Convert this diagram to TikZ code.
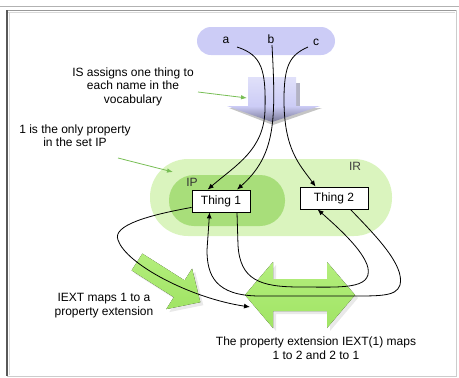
\documentclass[tikz,border=0pt]{standalone}
\usepackage{fontspec}
\setmainfont{Liberation Sans}
\usetikzlibrary{arrows.meta,shadows}
\definecolor{lav}{RGB}{204,204,246}
\definecolor{lavdark}{RGB}{120,120,150}
\definecolor{irgreen}{RGB}{218,244,190}
\definecolor{ipgreen}{RGB}{168,222,122}
\definecolor{arrgreen}{RGB}{160,228,100}
\definecolor{arrgreentop}{RGB}{180,238,125}
\definecolor{notegreen}{RGB}{120,190,85}
\begin{document}
\begin{tikzpicture}[x=1pt,y=-1pt,
  txt/.style={font=\fontsize{12}{13.5}\selectfont, align=center, inner sep=0pt},
  thing/.style={draw=black, line width=0.8pt, fill=white, minimum height=22pt, inner sep=0pt, font=\fontsize{12}{13}\selectfont},
  link/.style={line width=0.8pt, -{Latex[length=6pt,width=5pt]}},
  note/.style={draw=notegreen, line width=0.8pt, -{Latex[length=6pt,width=4.5pt]}},
  bigarrow/.style={top color=arrgreentop, bottom color=arrgreen, draw=none}
]
\useasboundingbox (0,0) rectangle (459,378);
% frame
\draw[line width=0.8pt, black!30] (0,6) -- (459,6);
\draw[line width=1pt, black!40] (7,10) -- (456,10);
\draw[line width=0.6pt, black!15] (8,12) -- (455,12);
\draw[line width=0.6pt, black!20] (456,10) -- (456,376) -- (7,376);
\draw[line width=1.6pt, black!65] (7,10) -- (7,376);
\draw[line width=1pt, black!15] (9.5,12) -- (9.5,375);

% vocabulary region
\fill[lav, rounded corners=14pt] (197,27) rectangle (335,55);
\node[txt] (a) at (226,40) {a};
\node[txt] (b) at (271,39) {b};
\node[txt] (c) at (316,42) {c};
\coordinate (as) at (237,47);
\coordinate (bs) at (272,45);
\coordinate (cs) at (308,47);

% big lavender down arrow
\fill[lavdark!70, opacity=0.8] (296,83) rectangle (300,107);
\fill[top color=lav!60, bottom color=lav] (248,77) rectangle (296,106);
\fill[black!45, opacity=0.5] (229,108) -- (322,108) -- (273,125) -- cycle;
\shade[top color=lav, bottom color=lavdark] (227,106) -- (320,106) -- (272,122) -- cycle;

% IR and IP regions
\fill[irgreen, rounded corners=38pt] (150,159) rectangle (392,236);
\fill[ipgreen, rounded corners=25pt] (169,175) rectangle (285,226);
\node[txt, text=black!75] (ir) at (355,166) {IR};
\node[txt, text=black!80] (ip) at (192,182) {IP};

\node[thing, minimum width=58pt] (t1) at (221,201) {Thing 1};
\node[thing, minimum width=68pt] (t2) at (334,198) {Thing 2};

% green big arrows
\fill[black!25, opacity=0.35] (134.6,273.4) -- (145.4,256.6) -- (187.6,283.4) -- (195.1,271.6) -- (203.3,305.2) -- (169.3,312.1) -- (176.8,300.2) -- cycle;
\fill[bigarrow] (131.6,270.4) -- (142.4,253.6) -- (184.6,280.4) -- (192.1,268.6) -- (200.3,302.2) -- (166.3,309.1) -- (173.8,297.2) -- cycle;
\fill[black!25, opacity=0.35] (248,298) -- (276,265) -- (276,282) -- (330,282) -- (330,265) -- (358,298) -- (330,331) -- (330,314) -- (276,314) -- (276,331) -- cycle;
\fill[bigarrow] (245,295) -- (273,262) -- (273,279) -- (327,279) -- (327,262) -- (355,295) -- (327,328) -- (327,311) -- (273,311) -- (273,328) -- cycle;

% texts
\node[txt] (t-is) at (133,86.5) {IS assigns one thing to\\each name in the\\vocabulary};
\node[txt] (t-ip) at (75,135.5) {1 is the only property\\in the set IP};
\node[txt] (t-iext) at (104,305.5) {IEXT maps 1 to a\\property extension};
\node[txt] (t-ext) at (316,348) {The property extension IEXT(1) maps\\1 to 2 and 2 to 1};

% note arrows
\coordinate (n1s) at (198,92);
\coordinate (n1e) at (247,98);
\coordinate (n2s) at (118,158);
\coordinate (n2e) at (173,172);
\draw[note] (n1s) -- (n1e);
\draw[note] (n2s) -- (n2e);

% IS mapping curves
\draw[link] (as) .. controls (262,55) and (266,70) .. (265,110) .. controls (264,150) and (236,165) .. ([xshift=16pt]t1.north west);
\draw[link] (bs) .. controls (276,120) and (276,155) .. ([xshift=16pt]t1.north);
\draw[link] (cs) .. controls (290,55) and (284,65) .. (284,100) .. controls (284,150) and (300,165) .. ([xshift=16pt]t2.north west);

% IEXT curves
\draw[link] ([yshift=5pt]t1.south west) .. controls (150,215) and (112,225) .. (118,240) .. controls (126,264) and (190,298) .. (250,307);
\draw[link] ([xshift=16pt]t1.south) -- (238,245) .. controls (240,280) and (260,287) .. (300,287) .. controls (340,287) and (372,290) .. (368,268) .. controls (364,250) and (335,225) .. ([xshift=18pt]t2.south west);
\draw[link] ([xshift=-18pt]t2.south east) .. controls (375,235) and (405,265) .. (400,285) .. controls (396,297) and (380,296) .. (340,296) -- (260,296) .. controls (215,296) and (207,275) .. (207,250) -- ([xshift=18pt]t1.south west);
\end{tikzpicture}
\end{document}
